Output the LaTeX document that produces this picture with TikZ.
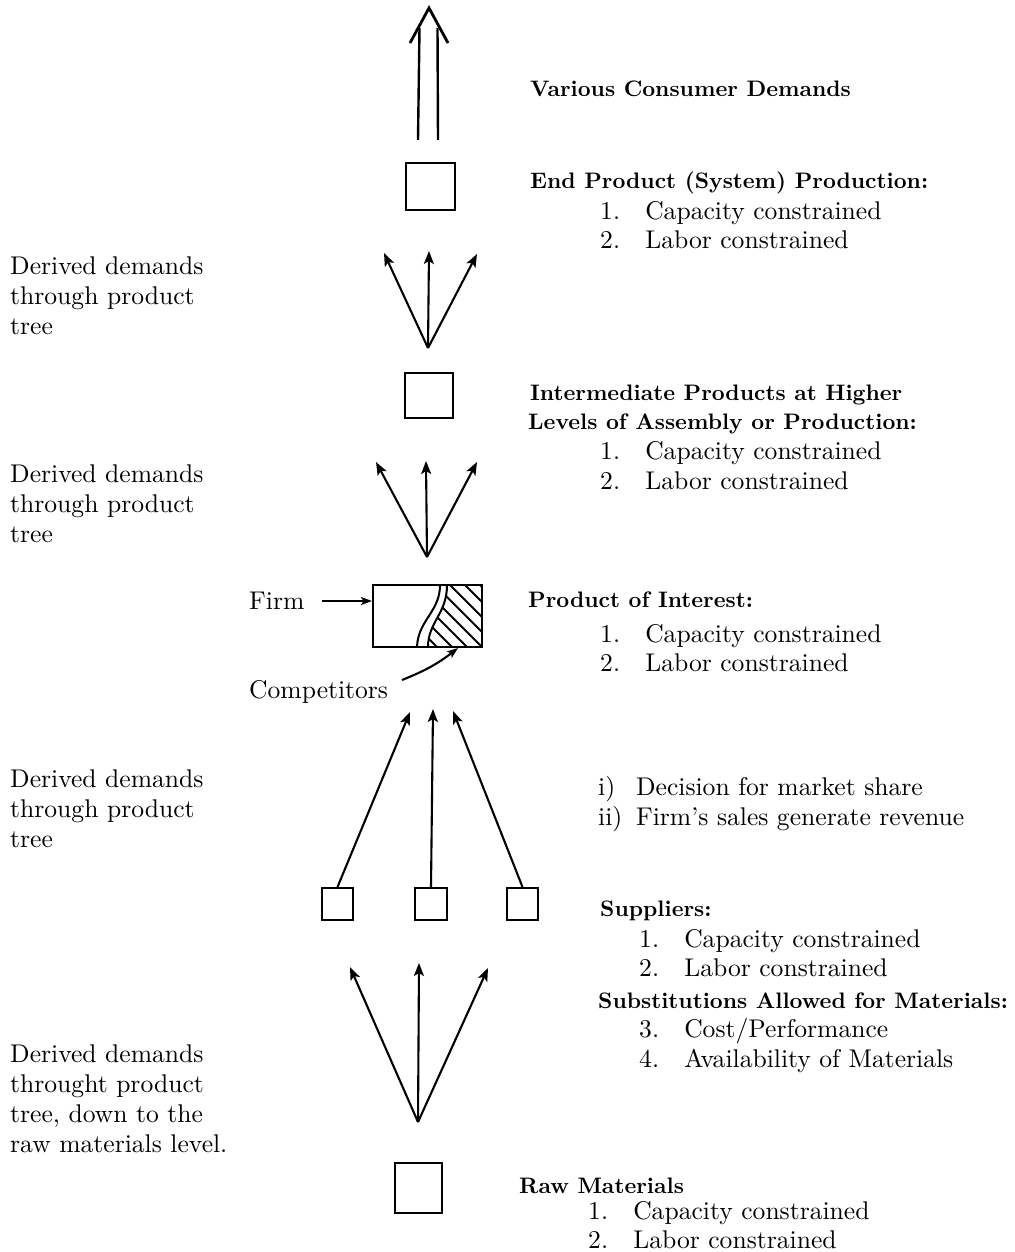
\documentclass[tikz,border=0pt]{standalone}
\usepackage{graphicx}
\usetikzlibrary{arrows.meta}
\newcommand\rt[1]{\scalebox{2.56}{\fontsize{10}{11.72}\selectfont #1}}
\newcommand\bt[1]{\scalebox{2.24}{\fontsize{10}{12}\selectfont\bfseries #1}}
\newcommand\itm[2]{\rt{\makebox[17.6pt][l]{#1}#2}}
\newcommand\itr[2]{\rt{\makebox[14.8pt][l]{#1}#2}}
\begin{document}
\begin{tikzpicture}[x=1pt,y=-1pt,
  boxs/.style={draw, line width=2pt, inner sep=0pt},
  arr/.style={-{Stealth[length=13pt,width=10pt,inset=3pt]}, line width=2.1pt},
  arrs/.style={-{Stealth[length=11pt,width=8pt,inset=2.5pt]}, line width=2.1pt},
  tx/.style={anchor=base west, inner sep=0pt}]
\useasboundingbox (0,0) rectangle (1014,1252);

% ---- boxes
\node[boxs, minimum width=49pt, minimum height=47pt] (b1) at (430.5,186.5) {};
\node[boxs, minimum width=48pt, minimum height=45pt] (b2) at (429,395.5) {};
\node[boxs, minimum width=109pt, minimum height=62pt] (firm) at (427.5,616) {};
\node[boxs, minimum width=31pt, minimum height=32pt] (s1) at (337.5,904) {};
\node[boxs, minimum width=32pt, minimum height=32pt] (s2) at (431,904) {};
\node[boxs, minimum width=31pt, minimum height=32pt] (s3) at (522.5,904) {};
\node[boxs, minimum width=47pt, minimum height=50pt] (raw) at (418.5,1188) {};

% ---- top double arrow
\coordinate (apex) at (429,8);
\draw[line width=2.4pt] (418,140) -- (419.5,28);
\draw[line width=2.4pt] (438,140) -- (437.5,28);
\draw[line width=2.8pt, line join=miter] (410,43) -- (apex) -- (448,43);

% ---- fan 1
\coordinate (f1) at (428,348);
\coordinate (f1a) at (384,253);
\coordinate (f1b) at (429,251);
\coordinate (f1c) at (477,254);
\draw[arr] (f1) -- (f1a);
\draw[arr] (f1) -- (f1b);
\draw[arr] (f1) -- (f1c);

% ---- fan 2
\coordinate (f2) at (427,557);
\coordinate (f2a) at (376,462);
\coordinate (f2b) at (426,461);
\coordinate (f2c) at (477,462);
\draw[arr] (f2) -- (f2a);
\draw[arr] (f2) -- (f2b);
\draw[arr] (f2) -- (f2c);

% ---- firm box interior
\begin{scope}
\clip (447,585) -- (482,585) -- (482,647) -- (428,647) .. controls (428,622) and (447,614) .. (447,585) -- cycle;
\foreach \k in {330,345,...,480} \draw[line width=1.8pt] (\k,570) -- (\k+100,670);
\end{scope}
\draw[line width=2pt] (440,585) .. controls (440,612) and (418,620) .. (417,647);
\draw[line width=2pt] (447,585) .. controls (447,614) and (428,622) .. (428,647);

% ---- firm / competitors labels
\node[tx] (firmlbl) at (249,609) {\rt{Firm}};
\coordinate (firmA) at (322,601);
\coordinate (firmB) at (firmA -| firm.west);
\draw[arrs] (firmA) -- (firmB);
\node[tx] (comp) at (249,698) {\rt{Competitors}};
\coordinate (cstart) at (402,680);
\coordinate (cend) at (458,648);
\draw[arrs] (cstart) to[bend right=8] (cend);

% ---- supplier arrows
\coordinate (p1) at (410,712);
\coordinate (p2) at (433,709);
\coordinate (p3) at (453,711);
\draw[arr] (s1.north) -- (p1);
\draw[arr] (s2.north) -- (p2);
\draw[arr] (s3.north) -- (p3);

% ---- fan 4
\coordinate (f4) at (418,1122);
\coordinate (f4a) at (350,967);
\coordinate (f4b) at (419,963);
\coordinate (f4c) at (488,968);
\draw[arr] (f4) -- (f4a);
\draw[arr] (f4) -- (f4b);
\draw[arr] (f4) -- (f4c);

% ---- right texts
\node[tx] (t1) at (530,97) {\bt{Various Consumer Demands}};
\node[tx] (t2) at (530,189) {\bt{End Product (System) Production:}};
\node[tx] (t2a) at (600,219) {\itm{1.}{Capacity constrained}};
\node[tx] (t2b) at (600,248) {\itm{2.}{Labor constrained}};
\node[tx] (t3) at (530,400) {\bt{Intermediate Products at Higher}};
\node[tx] (t3x) at (528,429) {\bt{Levels of Assembly or Production:}};
\node[tx] (t3a) at (600,459) {\itm{1.}{Capacity constrained}};
\node[tx] (t3b) at (600,489) {\itm{2.}{Labor constrained}};
\node[tx] (t4) at (528,607) {\bt{Product of Interest:}};
\node[tx] (t4a) at (600,642) {\itm{1.}{Capacity constrained}};
\node[tx] (t4b) at (600,671) {\itm{2.}{Labor constrained}};
\node[tx] (t5a) at (598,795) {\itr{i)}{Decision for market share}};
\node[tx] (t5b) at (598,825) {\itr{ii)}{Firm's sales generate revenue}};
\node[tx] (t6) at (600,916) {\bt{Suppliers:}};
\node[tx] (t6a) at (639,947) {\itm{1.}{Capacity constrained}};
\node[tx] (t6b) at (639,976) {\itm{2.}{Labor constrained}};
\node[tx] (t6x) at (598,1008) {\bt{Substitutions Allowed for Materials:}};
\node[tx] (t6c) at (639,1037) {\itm{3.}{Cost/Performance}};
\node[tx] (t6d) at (639,1067) {\itm{4.}{Availability of Materials}};
\node[tx] (t7) at (519,1193) {\bt{Raw Materials}};
\node[tx] (t7a) at (588,1219) {\itm{1.}{Capacity constrained}};
\node[tx] (t7b) at (588,1248) {\itm{2.}{Labor constrained}};

% ---- left texts
\node[tx] (l1) at (10,274) {\rt{\begin{tabular}[t]{@{}l@{}}Derived demands\\through product\\tree\end{tabular}}};
\node[tx] (l2) at (10,482) {\rt{\begin{tabular}[t]{@{}l@{}}Derived demands\\through product\\tree\end{tabular}}};
\node[tx] (l3) at (10,787) {\rt{\begin{tabular}[t]{@{}l@{}}Derived demands\\through product\\tree\end{tabular}}};
\node[tx] (l4) at (10,1062) {\rt{\begin{tabular}[t]{@{}l@{}}Derived demands\\throught product\\tree, down to the\\raw materials level.\end{tabular}}};
\end{tikzpicture}
\end{document}
